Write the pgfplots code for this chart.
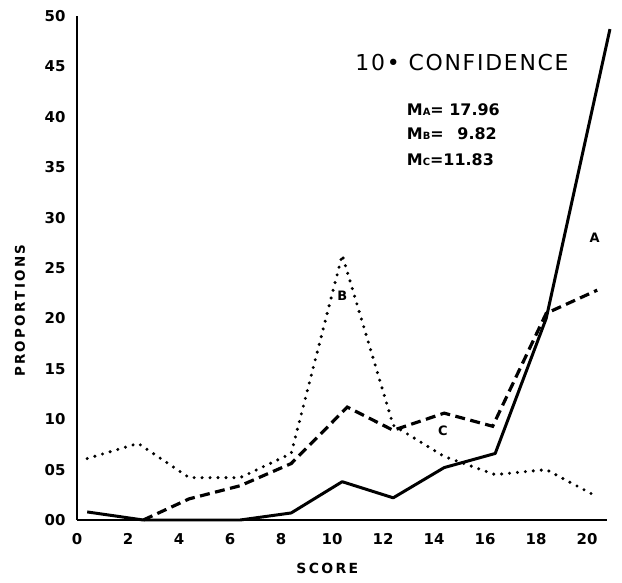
\documentclass[border=0pt]{standalone}
\usepackage{pgfplots}
\pgfplotsset{compat=1.18}
\usepackage{fontspec}
\setmainfont{DejaVu Sans}
\newfontfamily\titlefont[LetterSpace=8]{DejaVu Sans}

\pgfplotstableread{
x y
0.4 0.8
2.6 0
6.4 0
8.4 0.7
10.4 3.8
12.4 2.2
14.4 5.2
16.4 6.6
18.4 20.0
20.9 48.7
}\dataA

\pgfplotstableread{
x y
0.4 6.1
2.4 7.6
4.4 4.2
6.4 4.2
8.4 6.6
10.4 26.3
12.4 9.4
14.4 6.3
16.4 4.5
18.4 5.0
20.4 2.3
}\dataB

\pgfplotstableread{
x y
2.6 0
4.4 2.1
6.4 3.4
8.4 5.6
10.6 11.2
12.4 8.9
14.4 10.6
16.3 9.3
18.4 20.5
20.4 22.8
}\dataC

\begin{document}
\begin{tikzpicture}
\useasboundingbox (-77bp,-63bp) rectangle (545bp,520bp);
\begin{axis}[
  at={(0,0)}, anchor=south west,
  scale only axis, width=530.4bp, height=504bp,
  xmin=0, xmax=20.8, ymin=0, ymax=50,
  axis lines=left,
  axis line style={line width=2.8pt, -},
  xtick={0,2,...,20},
  xticklabels={0,2,4,6,8,10,12,14,16,18,20},
  ytick={0,5,...,50},
  yticklabels={00,05,10,15,20,25,30,35,40,45,50},
  major tick length=0pt,
  tick label style={font=\bfseries\fontsize{15}{15}\selectfont},
  xticklabel style={yshift=-10bp},
  yticklabel style={xshift=-8bp},
  xlabel={\bfseries\fontsize{14}{14}\selectfont S\,C\,O\,R\,E},
  xlabel style={at={(axis description cs:0.472,-0.097)}, anchor=center},
  ylabel={\bfseries\fontsize{13.5}{13.5}\selectfont P\,R\,O\,P\,O\,R\,T\,I\,O\,N\,S},
  ylabel style={at={(axis description cs:-0.1075,0.415)}, anchor=center},
  clip=false,
]
\addplot[black, line width=3pt, line join=round] table[x=x,y=y]{\dataA};
\addplot[black, line width=3.4pt, line cap=round, dash pattern=on 0pt off 8pt] table[x=x,y=y]{\dataB};
\addplot[black, line width=3.2pt, dash pattern=on 10pt off 5.5pt] table[x=x,y=y]{\dataC};

\node[font=\titlefont\fontsize{22}{22}\selectfont] at (axis cs:15.1,45.4) {10• CONFIDENCE};
\node[anchor=west, font=\bfseries\fontsize{16}{16}\selectfont] at (axis cs:12.8,40.7) {M{\fontsize{10}{10}\selectfont A}= 17.96};
\node[anchor=west, font=\bfseries\fontsize{16}{16}\selectfont] at (axis cs:12.8,38.3) {M{\fontsize{10}{10}\selectfont B}=\ \ \,9.82};
\node[anchor=west, font=\bfseries\fontsize{16}{16}\selectfont] at (axis cs:12.8,35.7) {M{\fontsize{10}{10}\selectfont C}=11.83};

\node[font=\bfseries\fontsize{13}{13}\selectfont] at (axis cs:20.3,28.0) {A};
\node[font=\bfseries\fontsize{13}{13}\selectfont] at (axis cs:10.4,22.2) {B};
\node[font=\bfseries\fontsize{13}{13}\selectfont] at (axis cs:14.35,8.9) {C};
\end{axis}
\end{tikzpicture}
\end{document}
